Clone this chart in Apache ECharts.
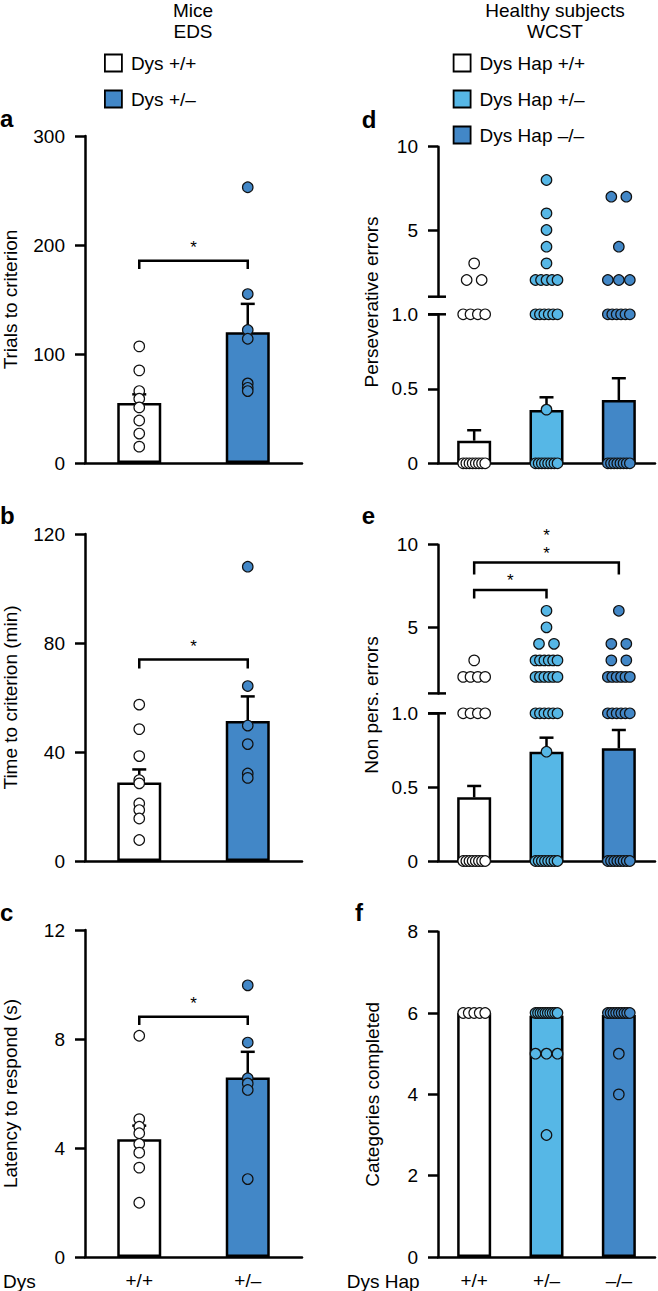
<!DOCTYPE html>
<html><head><meta charset="utf-8">
<script src="https://cdn.jsdelivr.net/npm/echarts@6/dist/echarts.min.js"></script>
<style>html,body{margin:0;padding:0;background:#fff}#chart{width:658px;height:1291px}</style>
</head><body><div id="chart"></div>
<script>
const FONT = '"Liberation Sans", Arial, Helvetica, sans-serif';
const WHITE = '#ffffff', LIGHT = '#56b7e6', DARK = '#4287c7';

// ---------- Mice, EDS (panels a–c) ----------
const miceCategories = ['+/+', '+/\u2013'];
const miceGroups = ['Dys +/+', 'Dys +/\u2013'];
const trialsMean = [55, 120];
const trialsSem = [8, 26];
const trialsWT = [107, 85, 66, 59, 51, 39, 27, 15];
const trialsHet = [253, 155, 122, 114, 73, 69, 66];
const trialsBracket = [[0, 1, 185.5, 178, 1]];

const timeMean = [28.8, 51.4];
const timeSem = [4.8, 9];
const timeWT = [57.4, 48.4, 38.5, 29.7, 28.5, 21.1, 18.7, 15.6, 7.7];
const timeHet = [108, 64.2, 49.7, 42.9, 32.1, 30.5];
const timeBracket = [[0, 1, 73.9, 70.6, 1]];

const latencyMean = [4.32, 6.59];
const latencySem = [0.5, 0.94];
const latencyWT = [8.12, 5.06, 4.78, 4.54, 4.15, 3.83, 3.28, 1.99];
const latencyHet = [9.97, 7.87, 6.56, 6.37, 6.13, 2.86];
const latencyBracket = [[0, 1, 8.82, 8.51, 1]];

// ---------- Healthy subjects, WCST (panels d–f) ----------
const humanCategories = ['+/+', '+/\u2013', '\u2013/\u2013'];
const humanGroups = ['Dys Hap +/+', 'Dys Hap +/\u2013', 'Dys Hap \u2013/\u2013'];

const persMean = [0.152, 0.358, 0.425];
const persSem = [0.07, 0.085, 0.146];
const persWT = [3, 2, 2, 1, 1, 1, 1, 0, 0, 0, 0, 0, 0, 0, 0];
const persHet = [8, 6, 5, 4, 3, 2, 2, 2, 2, 2, 1, 1, 1, 1, 1, 1, 0.36, 0, 0, 0, 0, 0, 0, 0, 0];
const persHom = [7, 7, 4, 2, 2, 2, 1, 1, 1, 1, 1, 1, 0, 0, 0, 0, 0, 0, 0, 0];

const nonMean = [0.431, 0.74, 0.763];
const nonSem = [0.077, 0.095, 0.124];
const nonWT = [3, 2, 2, 2, 2, 1, 1, 1, 1, 0, 0, 0, 0, 0, 0, 0, 0];
const nonHet = [6, 5, 4, 4, 3, 3, 3, 3, 3, 3, 2, 2, 2, 2, 2, 2, 1, 1, 1, 1, 1, 1, 0.74, 0, 0, 0, 0, 0, 0, 0, 0];
const nonHom = [6, 4, 4, 3, 3, 2, 2, 2, 2, 2, 2, 1, 1, 1, 1, 1, 1, 0, 0, 0, 0, 0, 0, 0, 0];
const nonBrackets = [[0, 1, 7.26, 6.75, 1], [0, 2, 8.93, 8.2, 2]];

const catsMean = [6.0, 5.93, 5.95];
const catsSem = [0, 0.03, 0.03];
const catsWT = [6, 6, 6, 6, 6];
const catsHet = [6, 6, 6, 6, 6, 6, 6, 6, 6, 6, 5, 5, 5, 3];
const catsHom = [6, 6, 6, 6, 6, 6, 6, 6, 6, 5, 4];

// ---------- helpers ----------
const series = [];
const BLACK = '#000';
const LW = 2.5;
const FS = 19;

function jitter(values) {
  const counts = {}, seen = {};
  values.forEach(v => counts[v] = (counts[v] || 0) + 1);
  return values.map(v => {
    const n = counts[v];
    const k = seen[v] = (seen[v] === undefined ? 0 : seen[v] + 1);
    const sp = n > 1 ? Math.min(15, 22 / (n - 1)) : 0;
    return [v, (k - (n - 1) / 2) * sp];
  });
}

function addBars(grid, groups, colors, means, barWidth) {
  groups.forEach((g, i) => {
    series.push({
      type: 'bar', name: g, xAxisIndex: grid, yAxisIndex: grid, barWidth, barGap: '-100%',
      data: means.map((m, j) => j === i ? m : '-'), silent: true, z: 2,
      itemStyle: { color: colors[i], borderColor: BLACK, borderWidth: LW }
    });
  });
}

function addErr(grid, means, sems) {
  series.push({
    type: 'custom', xAxisIndex: grid, yAxisIndex: grid, z: 3, silent: true,
    encode: { x: 0, y: 1 },
    data: means.map((m, i) => [i, m, sems[i]]),
    renderItem(params, api) {
      const x = api.value(0), m = api.value(1), s = api.value(2);
      const p0 = api.coord([x, m]), p1 = api.coord([x, m + s]);
      return { type: 'group', children: [
        { type: 'line', shape: { x1: p0[0], y1: p0[1], x2: p1[0], y2: p1[1] }, style: { stroke: BLACK, lineWidth: LW } },
        { type: 'line', shape: { x1: p1[0] - 7, y1: p1[1], x2: p1[0] + 7, y2: p1[1] }, style: { stroke: BLACK, lineWidth: LW } }
      ]};
    }
  });
}

function addPoints(grid, groupIndex, vals, color, keep) {
  const data = jitter(vals).filter(([v]) => keep(v))
    .map(([v, dx]) => ({ value: [groupIndex, v], symbolOffset: [dx, 0] }));
  series.push({
    type: 'scatter', xAxisIndex: grid, yAxisIndex: grid, z: 4, clip: false, silent: true,
    symbol: 'circle', symbolSize: 10.5, data,
    itemStyle: { color, borderColor: '#111', borderWidth: 1.2, opacity: 1 }
  });
}

const STAR_FS = 17, STAR_LH = 18;
function addBrackets(grid, brackets, starGap) {
  series.push({
    type: 'custom', xAxisIndex: grid, yAxisIndex: grid, z: 5, clip: false, silent: true,
    encode: { x: 0, y: 2 }, data: brackets,
    renderItem(params, api) {
      const x1 = api.value(0), x2 = api.value(1), top = api.value(2), drop = api.value(3), n = api.value(4);
      const a0 = api.coord([x1, drop]), a = api.coord([x1, top]), b = api.coord([x2, top]), b0 = api.coord([x2, drop]);
      const stars = new Array(n).fill('*').join('\n');
      return { type: 'group', children: [
        { type: 'polyline', shape: { points: [a0, a, b, b0] }, style: { stroke: BLACK, lineWidth: LW, fill: 'none' } },
        { type: 'text', x: (a[0] + b[0]) / 2, y: a[1] - starGap - (n - 1) * STAR_LH / 2,
          style: { text: stars, fontSize: STAR_FS, lineHeight: STAR_LH, fontFamily: FONT, fill: BLACK, align: 'center', verticalAlign: 'middle' } }
      ]};
    }
  });
}

function addBreak(grid, value) {
  series.push({
    type: 'custom', xAxisIndex: grid, yAxisIndex: grid, z: 5, clip: false, silent: true,
    encode: { x: 0, y: 1 }, data: [[0, value]],
    renderItem(params, api) {
      const y = api.coord([0, api.value(1)])[1], x = params.coordSys.x;
      return { type: 'line', shape: { x1: x - 10, y1: y, x2: x + 8, y2: y }, style: { stroke: BLACK, lineWidth: LW } };
    }
  });
}

// ---------- layout ----------
const grids = [
  { left: 84, top: 136, width: 218, height: 327 },      // a
  { left: 84, top: 534, width: 218, height: 327 },      // b
  { left: 84, top: 930, width: 218, height: 327 },      // c
  { left: 438, top: 146.7, width: 217, height: 150 },   // d upper
  { left: 438, top: 314.3, width: 217, height: 149 },   // d lower
  { left: 438, top: 544.7, width: 217, height: 148.7 }, // e upper
  { left: 438, top: 713.3, width: 217, height: 147.7 }, // e lower
  { left: 438, top: 931.7, width: 217, height: 325.3 }  // f
];

const txt = { color: BLACK, fontSize: FS, fontFamily: FONT };
function xAx(grid, cats, showLine, showLabels) {
  return { type: 'category', gridIndex: grid, data: cats,
    axisLine: { show: showLine, lineStyle: { color: BLACK, width: LW } },
    axisTick: { show: false }, splitLine: { show: false },
    axisLabel: Object.assign({ show: showLabels, margin: 14 }, txt) };
}
function yAx(grid, cfg) {
  return Object.assign({ type: 'value', gridIndex: grid,
    axisLine: { show: true, lineStyle: { color: BLACK, width: LW } },
    axisTick: { show: true, length: 10, lineStyle: { color: BLACK, width: LW } },
    splitLine: { show: false },
    axisLabel: Object.assign({ margin: 20 }, txt),
    nameLocation: 'middle', nameTextStyle: txt }, cfg);
}
const halfFmt = v => v === 0 ? '0' : v.toFixed(1);

const xAxis = [
  xAx(0, miceCategories, true, false), xAx(1, miceCategories, true, false), xAx(2, miceCategories, true, true),
  xAx(3, humanCategories, false, false), xAx(4, humanCategories, true, false),
  xAx(5, humanCategories, false, false), xAx(6, humanCategories, true, false),
  xAx(7, humanCategories, true, true)
];
const upperCfg = { min: 1, max: 10,
  axisTick: { show: true, length: 10, lineStyle: { color: BLACK, width: LW }, customValues: [5, 10] },
  axisLabel: Object.assign({ margin: 20, customValues: [5, 10] }, txt) };
const yAxis = [
  yAx(0, { min: 0, max: 300, interval: 100, name: 'Trials to criterion', nameGap: 65 }),
  yAx(1, { min: 0, max: 120, interval: 40, name: 'Time to criterion (min)', nameGap: 65 }),
  yAx(2, { min: 0, max: 12, interval: 4, name: 'Latency to respond (s)', nameGap: 65 }),
  yAx(3, upperCfg),
  yAx(4, { min: 0, max: 1, interval: 0.5, axisLabel: Object.assign({ margin: 20, formatter: halfFmt }, txt) }),
  yAx(5, upperCfg),
  yAx(6, { min: 0, max: 1, interval: 0.5, axisLabel: Object.assign({ margin: 20, formatter: halfFmt }, txt) }),
  yAx(7, { min: 0, max: 8, interval: 2, name: 'Categories completed', nameGap: 56 })
];

// ---------- series ----------
const miceColors = [WHITE, DARK];
const humanColors = [WHITE, LIGHT, DARK];
const all = () => true;

// a
addBars(0, miceGroups, miceColors, trialsMean, 44);
addErr(0, trialsMean, trialsSem);
addPoints(0, 0, trialsWT, WHITE, all);
addPoints(0, 1, trialsHet, DARK, all);
addBrackets(0, trialsBracket, 13);
// b
addBars(1, miceGroups, miceColors, timeMean, 44);
addErr(1, timeMean, timeSem);
addPoints(1, 0, timeWT, WHITE, all);
addPoints(1, 1, timeHet, DARK, all);
addBrackets(1, timeBracket, 13);
// c
addBars(2, miceGroups, miceColors, latencyMean, 44);
addErr(2, latencyMean, latencySem);
addPoints(2, 0, latencyWT, WHITE, all);
addPoints(2, 1, latencyHet, DARK, all);
addBrackets(2, latencyBracket, 13);

// d (broken axis)
const up = v => v > 1, low = v => v <= 1;
addBars(4, humanGroups, humanColors, persMean, 34);
addErr(4, persMean, persSem);
[persWT, persHet, persHom].forEach((pts, i) => {
  addPoints(3, i, pts, humanColors[i], up);
  addPoints(4, i, pts, humanColors[i], low);
});
addBreak(3, 1); addBreak(4, 1);

// e (broken axis)
addBars(6, humanGroups, humanColors, nonMean, 34);
addErr(6, nonMean, nonSem);
[nonWT, nonHet, nonHom].forEach((pts, i) => {
  addPoints(5, i, pts, humanColors[i], up);
  addPoints(6, i, pts, humanColors[i], low);
});
addBrackets(5, nonBrackets, 9);
addBreak(5, 1); addBreak(6, 1);

// f
addBars(7, humanGroups, humanColors, catsMean, 34);
addErr(7, catsMean, catsSem);
[catsWT, catsHet, catsHom].forEach((pts, i) => addPoints(7, i, pts, humanColors[i], all));

// ---------- text ----------
function t(text, x, y, extra) {
  return { type: 'text', x, y, silent: true,
    style: Object.assign({ text, fontSize: FS, fontFamily: FONT, fill: BLACK, align: 'center', verticalAlign: 'middle' }, extra || {}) };
}
function letter(text, x, y) { return t(text, x, y, { fontSize: 24, fontWeight: 'bold', align: 'left' }); }
function vname(text, x, y) { const g = t(text, x, y); g.rotation = Math.PI / 2; return g; }

const graphic = [
  t('Mice', 193, 10.5), t('EDS', 193, 31.5),
  t('Healthy subjects', 555, 10.5), t('WCST', 555, 31.5),
  letter('a', 0, 118.4), letter('b', 0, 515.7), letter('c', 0, 912.4),
  letter('d', 361.7, 119.4), letter('e', 361.7, 515.7), letter('f', 355, 912.4),
  vname('Perseverative errors', 371, 302), vname('Non pers. errors', 371, 705),
  t('Dys', 3, 1281, { align: 'left' }), t('Dys Hap', 346.7, 1281, { align: 'left' })
];

const legendBase = { orient: 'vertical', top: 53.5, padding: 0, itemWidth: 17, itemHeight: 17, itemGap: 17, icon: 'rect',
  selectedMode: false, textStyle: Object.assign({ lineHeight: 19, padding: [0, 0, 0, 4] }, txt),
  itemStyle: { borderColor: BLACK, borderWidth: 1.8 } };
const legend = [
  Object.assign({ data: miceGroups, left: 104 }, legendBase),
  Object.assign({ data: humanGroups, left: 452.7 }, legendBase)
];

const chart = echarts.init(document.getElementById('chart'), null, { renderer: 'svg' });
chart.setOption({ animation: false, backgroundColor: '#fff', textStyle: { fontFamily: FONT },
  grid: grids, xAxis, yAxis, series, legend, graphic });
</script></body></html>
